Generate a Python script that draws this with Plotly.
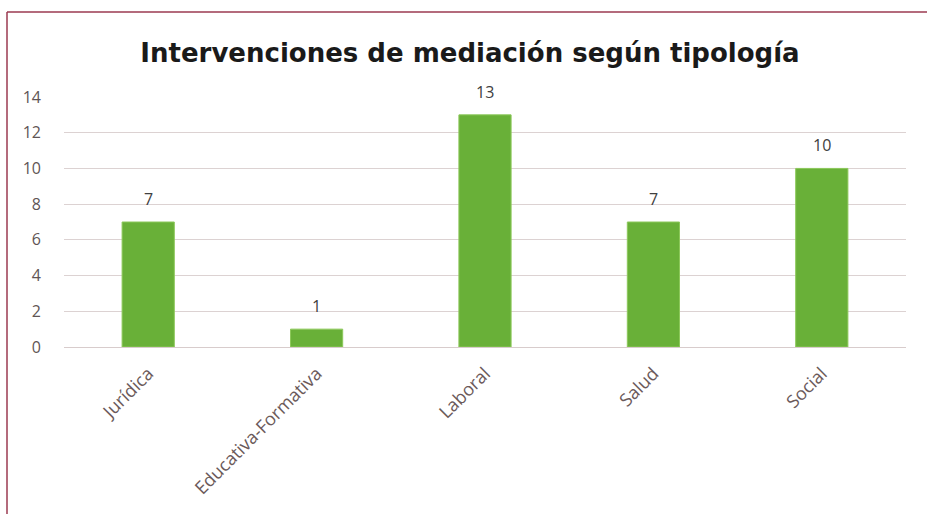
import plotly.graph_objects as go

categories = ["Jurídica", "Educativa-Formativa", "Laboral", "Salud", "Social"]
values = [7, 1, 13, 7, 10]
y_ticks = [0, 2, 4, 6, 8, 10, 12, 14]

W, H = 927, 514
ml, mr, mt, mb = 64, 21, 97, 167
pw, ph = W - ml - mr, H - mt - mb

fig = go.Figure(go.Bar(
    x=categories, y=values,
    marker=dict(color="#69b038", line=dict(color="#8cc85a", width=1)),
    cliponaxis=False,
))

for c, v in zip(categories, values):
    fig.add_annotation(x=c, y=v, text=str(v), showarrow=False, yanchor="middle", yshift=23,
                       font=dict(family="Open Sans", size=16, color="#404040"))

fx0 = (7 - ml) / pw
fy0 = 1 + (mt - 12) / ph
fig.add_shape(type="line", xref="paper", yref="paper", x0=fx0, x1=(W - ml + 5) / pw, y0=fy0, y1=fy0,
              line=dict(color="#9b3a50", width=1.5))
fig.add_shape(type="line", xref="paper", yref="paper", x0=fx0, x1=fx0, y0=fy0, y1=-(mb + 5) / ph,
              line=dict(color="#9b3a50", width=1.5))

fig.update_layout(
    width=W, height=H,
    margin=dict(l=ml, r=mr, t=mt, b=mb),
    paper_bgcolor="white", plot_bgcolor="white",
    bargap=0.69,
    showlegend=False,
    title=dict(text="<b>Intervenciones de mediación según tipología</b>",
               x=470 / W, xanchor="center", y=1 - 53 / H, yanchor="middle",
               font=dict(family="DejaVu Sans", size=26, color="#1a1a1a")),
    xaxis=dict(tickangle=-45, tickfont=dict(family="Open Sans", size=18, color="#6b5a5a"),
               showline=True, linecolor="#d8cccc", linewidth=1, ticks="", showgrid=False,
               ticklabelstandoff=8),
    yaxis=dict(range=[0, 14], tickvals=y_ticks, showgrid=True, gridcolor="#dcd2d2", gridwidth=1,
               tickfont=dict(family="Open Sans", size=16, color="#5f5555"), zeroline=False,
               ticks="", ticklen=0, ticklabelstandoff=22),
)

fig.write_html("out.html", config={"displayModeBar": False},
               post_script="document.body.style.margin='0';")
